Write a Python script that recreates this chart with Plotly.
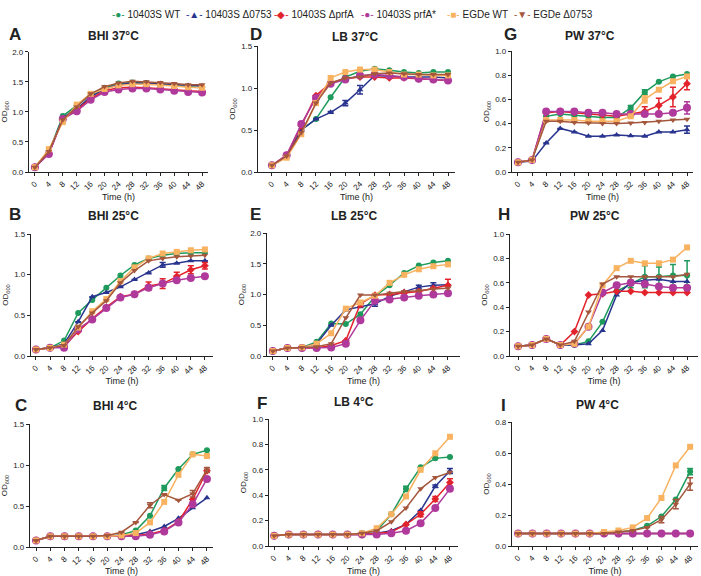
import plotly.graph_objects as go

TIME_H = [0, 4, 8, 12, 16, 20, 24, 28, 32, 36, 40, 44, 48]
TICK_H = [0, 4, 8, 12, 16, 20, 24, 28, 32, 36, 40, 44, 48]

STRAINS = ["10403S WT", "10403S \u03940753", "10403S \u0394prfA", "10403S prfA*", "EGDe WT", "EGDe \u03940753"]
COLORS = ["#1e9a5c", "#29348e", "#e3232c", "#b03a9c", "#f8b260", "#a5573d"]
SYMBOLS = ["circle", "triangle-up", "diamond", "circle", "square", "triangle-down"]
SIZES = [6, 6, 6, 8, 6, 6]
LEGEND_GLYPHS = ["\u25cf", "\u25b2", "\u25c6", "\u25cf", "\u25a0", "\u25bc"]

PANEL_LETTERS = ["A", "D", "G", "B", "E", "H", "C", "F", "I"]
PANEL_TITLES = ["BHI 37\u00b0C", "LB 37\u00b0C", "PW 37\u00b0C",
                "BHI 25\u00b0C", "LB 25\u00b0C", "PW 25\u00b0C",
                "BHI 4\u00b0C", "LB 4\u00b0C", "PW 4\u00b0C"]
Y_MAX = [2.0, 1.5, 1.0, 1.5, 2.0, 1.0, 1.5, 1.0, 0.8]
Y_STEP = [0.5, 0.5, 0.2, 0.5, 0.5, 0.2, 0.5, 0.2, 0.2]

# ---- A: BHI 37C
A_WT      = [0.08, 0.33, 0.93, 1.10, 1.28, 1.40, 1.47, 1.49, 1.48, 1.46, 1.44, 1.42, 1.40]
A_D0753   = [0.08, 0.31, 0.90, 1.05, 1.25, 1.38, 1.45, 1.48, 1.48, 1.47, 1.45, 1.44, 1.43]
A_DPRFA   = [0.08, 0.31, 0.88, 1.03, 1.22, 1.35, 1.40, 1.41, 1.40, 1.38, 1.36, 1.35, 1.34]
A_PRFAS   = [0.08, 0.30, 0.88, 1.01, 1.20, 1.33, 1.37, 1.39, 1.39, 1.37, 1.35, 1.33, 1.32]
A_EWT     = [0.08, 0.38, 0.83, 1.12, 1.30, 1.38, 1.44, 1.46, 1.46, 1.45, 1.43, 1.41, 1.40]
A_ED0753  = [0.08, 0.34, 0.87, 1.08, 1.30, 1.42, 1.48, 1.51, 1.50, 1.49, 1.47, 1.45, 1.45]

# ---- D: LB 37C
D_WT      = [0.08, 0.18, 0.50, 0.63, 0.89, 1.13, 1.20, 1.23, 1.21, 1.19, 1.18, 1.19, 1.19]
D_D0753   = [0.08, 0.19, 0.50, 0.63, 0.71, 0.82, 0.98, 1.15, 1.14, 1.13, 1.13, 1.13, 1.12]
D_DPRFA   = [0.08, 0.20, 0.55, 0.91, 1.06, 1.11, 1.13, 1.13, 1.12, 1.12, 1.11, 1.10, 1.09]
D_PRFAS   = [0.08, 0.20, 0.57, 0.88, 1.05, 1.10, 1.15, 1.16, 1.15, 1.13, 1.11, 1.10, 1.09]
D_EWT     = [0.08, 0.17, 0.45, 0.82, 1.12, 1.19, 1.22, 1.22, 1.19, 1.16, 1.16, 1.15, 1.15]
D_ED0753  = [0.08, 0.19, 0.47, 0.82, 1.06, 1.12, 1.13, 1.17, 1.18, 1.17, 1.16, 1.16, 1.16]
D_D0753_ERR = [0, 0, 0, 0, 0.01, 0.03, 0.05, 0, 0, 0, 0, 0, 0]

# ---- G: PW 37C
G_WT      = [0.08, 0.10, 0.46, 0.48, 0.47, 0.46, 0.45, 0.45, 0.53, 0.66, 0.745, 0.79, 0.81]
G_D0753   = [0.08, 0.09, 0.24, 0.36, 0.33, 0.295, 0.295, 0.305, 0.30, 0.295, 0.33, 0.33, 0.35]
G_DPRFA   = [0.08, 0.10, 0.49, 0.50, 0.49, 0.48, 0.47, 0.46, 0.48, 0.50, 0.55, 0.62, 0.73]
G_PRFAS   = [0.08, 0.10, 0.50, 0.50, 0.50, 0.49, 0.49, 0.48, 0.48, 0.48, 0.48, 0.49, 0.53]
G_EWT     = [0.08, 0.10, 0.43, 0.43, 0.43, 0.42, 0.42, 0.42, 0.46, 0.60, 0.68, 0.75, 0.79]
G_ED0753  = [0.08, 0.10, 0.42, 0.42, 0.41, 0.405, 0.40, 0.40, 0.405, 0.41, 0.42, 0.43, 0.435]
G_WT_ERR    = [0, 0, 0, 0, 0, 0, 0, 0, 0.02, 0.02, 0, 0, 0]
G_D0753_ERR = [0, 0, 0, 0, 0, 0, 0, 0, 0, 0, 0, 0, 0.03]
G_DPRFA_ERR = [0, 0, 0, 0, 0, 0, 0, 0, 0, 0.04, 0.06, 0.08, 0.05]
G_PRFAS_ERR = [0, 0, 0, 0, 0, 0, 0, 0, 0, 0, 0, 0, 0.05]
G_EWT_ERR   = [0, 0, 0, 0, 0, 0, 0, 0, 0, 0.03, 0, 0, 0]

# ---- B: BHI 25C
B_WT      = [0.08, 0.10, 0.19, 0.53, 0.69, 0.84, 0.99, 1.12, 1.20, 1.24, 1.26, 1.27, 1.27]
B_D0753   = [0.08, 0.10, 0.15, 0.42, 0.73, 0.78, 0.85, 0.94, 1.02, 1.12, 1.14, 1.17, 1.17]
B_DPRFA   = [0.08, 0.10, 0.12, 0.30, 0.46, 0.60, 0.73, 0.76, 0.86, 0.89, 0.98, 1.06, 1.11]
B_PRFAS   = [0.08, 0.10, 0.10, 0.33, 0.45, 0.59, 0.72, 0.76, 0.84, 0.89, 0.93, 0.96, 0.98]
B_EWT     = [0.08, 0.10, 0.14, 0.35, 0.55, 0.70, 0.92, 1.09, 1.20, 1.26, 1.28, 1.30, 1.31]
B_ED0753  = [0.08, 0.10, 0.13, 0.36, 0.53, 0.68, 0.90, 1.05, 1.17, 1.20, 1.22, 1.23, 1.24]
B_D0753_ERR = [0, 0, 0, 0, 0, 0, 0, 0, 0, 0.03, 0, 0, 0]
B_DPRFA_ERR = [0, 0, 0, 0, 0, 0, 0, 0, 0.05, 0.06, 0.05, 0.05, 0.04]

# ---- E: LB 25C
E_WT      = [0.08, 0.13, 0.14, 0.23, 0.53, 0.52, 0.68, 0.97, 1.15, 1.35, 1.47, 1.52, 1.55]
E_D0753   = [0.08, 0.13, 0.14, 0.20, 0.50, 0.75, 0.80, 0.85, 0.97, 1.05, 1.12, 1.15, 1.16]
E_DPRFA   = [0.08, 0.13, 0.13, 0.13, 0.17, 0.25, 0.85, 0.99, 1.00, 1.03, 1.05, 1.10, 1.15]
E_PRFAS   = [0.08, 0.13, 0.13, 0.13, 0.14, 0.20, 0.58, 0.90, 0.92, 0.95, 0.98, 1.00, 1.02]
E_EWT     = [0.08, 0.13, 0.14, 0.20, 0.37, 0.77, 0.87, 0.98, 1.19, 1.32, 1.41, 1.46, 1.49]
E_ED0753  = [0.08, 0.13, 0.14, 0.15, 0.20, 0.62, 0.99, 0.99, 1.02, 1.05, 1.06, 1.09, 1.10]
E_D0753_ERR = [0, 0, 0, 0, 0, 0, 0, 0.04, 0, 0, 0.03, 0.04, 0]
E_DPRFA_ERR = [0, 0, 0, 0, 0, 0, 0.05, 0, 0, 0, 0, 0, 0.10]

# ---- H: PW 25C
H_WT      = [0.08, 0.09, 0.14, 0.09, 0.09, 0.12, 0.28, 0.53, 0.59, 0.65, 0.65, 0.66, 0.66]
H_D0753   = [0.08, 0.09, 0.14, 0.09, 0.09, 0.10, 0.21, 0.50, 0.60, 0.62, 0.63, 0.61, 0.61]
H_DPRFA   = [0.08, 0.09, 0.14, 0.09, 0.20, 0.50, 0.51, 0.53, 0.53, 0.52, 0.52, 0.52, 0.52]
H_PRFAS   = [0.08, 0.09, 0.14, 0.09, 0.10, 0.24, 0.52, 0.58, 0.60, 0.59, 0.57, 0.56, 0.56]
H_EWT     = [0.08, 0.09, 0.14, 0.09, 0.10, 0.24, 0.58, 0.72, 0.78, 0.76, 0.76, 0.79, 0.89]
H_ED0753  = [0.08, 0.09, 0.14, 0.09, 0.12, 0.36, 0.59, 0.65, 0.65, 0.65, 0.65, 0.65, 0.67]
H_WT_ERR    = [0, 0, 0, 0, 0, 0, 0, 0, 0.03, 0.09, 0.08, 0.09, 0.12]

# ---- C: BHI 4C
C_WT      = [0.08, 0.13, 0.13, 0.13, 0.13, 0.13, 0.15, 0.20, 0.38, 0.72, 0.95, 1.13, 1.18]
C_D0753   = [0.08, 0.13, 0.13, 0.13, 0.13, 0.13, 0.14, 0.15, 0.19, 0.25, 0.35, 0.48, 0.60]
C_DPRFA   = [0.08, 0.13, 0.13, 0.13, 0.13, 0.13, 0.13, 0.14, 0.16, 0.20, 0.31, 0.58, 0.93]
C_PRFAS   = [0.08, 0.13, 0.13, 0.13, 0.13, 0.13, 0.13, 0.13, 0.15, 0.19, 0.30, 0.52, 0.83]
C_EWT     = [0.08, 0.13, 0.13, 0.13, 0.13, 0.13, 0.14, 0.17, 0.30, 0.55, 0.88, 1.13, 1.11]
C_ED0753  = [0.08, 0.13, 0.13, 0.13, 0.13, 0.14, 0.18, 0.30, 0.51, 0.64, 0.57, 0.65, 0.94]
C_WT_ERR    = [0, 0, 0, 0, 0, 0, 0, 0, 0, 0.03, 0, 0, 0]
C_ED0753_ERR = [0, 0, 0, 0, 0, 0, 0, 0, 0.03, 0, 0, 0.04, 0.03]

# ---- F: LB 4C
F_WT      = [0.08, 0.09, 0.09, 0.09, 0.09, 0.09, 0.10, 0.12, 0.25, 0.45, 0.62, 0.69, 0.70]
F_D0753   = [0.08, 0.09, 0.09, 0.09, 0.09, 0.09, 0.09, 0.10, 0.12, 0.17, 0.28, 0.47, 0.59]
F_DPRFA   = [0.08, 0.09, 0.09, 0.09, 0.09, 0.09, 0.09, 0.10, 0.11, 0.17, 0.25, 0.37, 0.50]
F_PRFAS   = [0.08, 0.09, 0.09, 0.09, 0.09, 0.09, 0.09, 0.09, 0.10, 0.12, 0.18, 0.30, 0.45]
F_EWT     = [0.08, 0.09, 0.09, 0.09, 0.09, 0.09, 0.10, 0.14, 0.25, 0.39, 0.60, 0.73, 0.86]
F_ED0753  = [0.08, 0.09, 0.09, 0.09, 0.09, 0.09, 0.10, 0.12, 0.19, 0.30, 0.45, 0.54, 0.58]
F_WT_ERR    = [0, 0, 0, 0, 0, 0, 0, 0, 0, 0.02, 0, 0, 0]
F_D0753_ERR = [0, 0, 0, 0, 0, 0, 0, 0, 0, 0, 0, 0.01, 0.02]
F_DPRFA_ERR = [0, 0, 0, 0, 0, 0, 0, 0, 0, 0, 0.02, 0.02, 0.03]

# ---- I: PW 4C
I_WT      = [0.08, 0.08, 0.08, 0.08, 0.08, 0.08, 0.08, 0.09, 0.10, 0.13, 0.19, 0.30, 0.48]
I_D0753   = [0.08, 0.08, 0.08, 0.08, 0.08, 0.08, 0.08, 0.08, 0.08, 0.08, 0.08, 0.08, 0.08]
I_DPRFA   = [0.08, 0.08, 0.08, 0.08, 0.08, 0.08, 0.08, 0.08, 0.08, 0.08, 0.08, 0.08, 0.08]
I_PRFAS   = [0.08, 0.08, 0.08, 0.08, 0.08, 0.08, 0.08, 0.08, 0.08, 0.08, 0.08, 0.08, 0.08]
I_EWT     = [0.08, 0.08, 0.08, 0.08, 0.08, 0.08, 0.09, 0.10, 0.12, 0.18, 0.31, 0.52, 0.64]
I_ED0753  = [0.08, 0.08, 0.08, 0.08, 0.08, 0.08, 0.08, 0.09, 0.10, 0.12, 0.17, 0.27, 0.40]
I_WT_ERR    = [0, 0, 0, 0, 0, 0, 0, 0, 0, 0, 0, 0, 0.02]
I_ED0753_ERR = [0, 0, 0, 0, 0, 0, 0, 0, 0, 0, 0.02, 0.03, 0.04]

PANEL_DATA = [
    [A_WT, A_D0753, A_DPRFA, A_PRFAS, A_EWT, A_ED0753],
    [D_WT, D_D0753, D_DPRFA, D_PRFAS, D_EWT, D_ED0753],
    [G_WT, G_D0753, G_DPRFA, G_PRFAS, G_EWT, G_ED0753],
    [B_WT, B_D0753, B_DPRFA, B_PRFAS, B_EWT, B_ED0753],
    [E_WT, E_D0753, E_DPRFA, E_PRFAS, E_EWT, E_ED0753],
    [H_WT, H_D0753, H_DPRFA, H_PRFAS, H_EWT, H_ED0753],
    [C_WT, C_D0753, C_DPRFA, C_PRFAS, C_EWT, C_ED0753],
    [F_WT, F_D0753, F_DPRFA, F_PRFAS, F_EWT, F_ED0753],
    [I_WT, I_D0753, I_DPRFA, I_PRFAS, I_EWT, I_ED0753],
]
PANEL_ERRORS = {
    (1, 1): D_D0753_ERR,
    (2, 0): G_WT_ERR, (2, 1): G_D0753_ERR, (2, 2): G_DPRFA_ERR, (2, 3): G_PRFAS_ERR, (2, 4): G_EWT_ERR,
    (3, 1): B_D0753_ERR, (3, 2): B_DPRFA_ERR,
    (4, 1): E_D0753_ERR, (4, 2): E_DPRFA_ERR,
    (5, 0): H_WT_ERR,
    (6, 0): C_WT_ERR, (6, 5): C_ED0753_ERR,
    (7, 0): F_WT_ERR, (7, 1): F_D0753_ERR, (7, 2): F_DPRFA_ERR,
    (8, 0): I_WT_ERR, (8, 5): I_ED0753_ERR,
}

# ---- layout geometry (pixels in 701x576 canvas)
W, H = 701, 576
# (x_left, x_right, y_top, y_bottom) of each plot area
BOXES = [
    (29, 208, 51.7, 172), (258, 455, 46, 172), (512, 693, 51, 172),
    (31, 213, 234, 356), (267, 460, 233, 356), (510, 698, 234, 356),
    (30, 213, 424, 547), (269, 458, 419, 546), (512, 698, 422, 546),
]
X_RANGES = [
    (-1.7, 49.7), (-3.8, 49.9), (-1.7, 49.7),
    (-1.4, 50.3), (-1.6, 51.3), (-2.3, 51.1),
    (-1.7, 49.7), (-1.4, 50.2), (-1.7, 50.2),
]
TITLE_POS = [(113, 36), (355, 37), (590, 36), (113, 216), (354, 216), (595, 216),
             (115, 406), (354, 402), (597, 405)]
LETTER_POS = [(15, 35), (256, 35), (510, 35), (15, 215), (255, 215), (504, 215),
              (21, 405), (262, 403), (503, 405)]
LEGEND_X = [110, 184, 272, 359, 445, 512]

FONT = "Arial, Liberation Sans, sans-serif"

fig = go.Figure()
layout = dict(
    width=W, height=H, margin=dict(l=0, r=0, t=0, b=0),
    paper_bgcolor="white", plot_bgcolor="white", showlegend=False,
    font=dict(family=FONT, color="#222"),
)

annotations = []
for p in range(9):
    sfx = "" if p == 0 else str(p + 1)
    xl, xr, yt, yb = BOXES[p]
    nsteps = int(round(Y_MAX[p] / Y_STEP[p]))
    yt_vals = [round(i * Y_STEP[p], 2) for i in range(nsteps + 1)]
    layout["xaxis" + sfx] = dict(
        domain=[xl / W, xr / W], anchor="y" + sfx, range=list(X_RANGES[p]),
        tickvals=TICK_H, ticktext=[str(t) for t in TICK_H], tickangle=-45,
        showline=True, linecolor="#222", linewidth=1.2, ticks="outside", ticklen=3,
        tickcolor="#222", showgrid=False, zeroline=False,
        tickfont=dict(size=8, family=FONT, color="#222"),
        title=dict(text="Time (h)", font=dict(size=9, family=FONT, color="#222"), standoff=2),
        automargin=False,
    )
    layout["yaxis" + sfx] = dict(
        domain=[1 - yb / H, 1 - yt / H], anchor="x" + sfx, range=[0, Y_MAX[p]],
        tickvals=yt_vals, tickformat=".1f",
        showline=True, linecolor="#222", linewidth=1.2, ticks="outside", ticklen=3,
        tickcolor="#222", showgrid=False, zeroline=False,
        tickfont=dict(size=8, family=FONT, color="#222"),
        title=dict(text="OD<sub>600</sub>", font=dict(size=8, family=FONT, color="#222"), standoff=4),
        automargin=False,
    )
    for s in range(6):
        err = PANEL_ERRORS.get((p, s))
        tr = dict(
            x=TIME_H, y=PANEL_DATA[p][s], mode="lines+markers", name=STRAINS[s],
            xaxis="x" + sfx, yaxis="y" + sfx,
            line=dict(color=COLORS[s], width=1.5),
            marker=dict(symbol=SYMBOLS[s], size=SIZES[s], color=COLORS[s]),
            cliponaxis=False,
        )
        if err is not None:
            tr["error_y"] = dict(type="data", array=err, visible=True, color=COLORS[s],
                                 thickness=1.5, width=3)
        fig.add_trace(go.Scatter(**tr))
    tx, ty = TITLE_POS[p]
    annotations.append(dict(text="<b>" + PANEL_TITLES[p] + "</b>", x=tx / W, y=1 - ty / H,
                            xref="paper", yref="paper", showarrow=False,
                            xanchor="center", yanchor="middle",
                            font=dict(size=12, family=FONT, color="#222")))
    lx, ly = LETTER_POS[p]
    annotations.append(dict(text="<b>" + PANEL_LETTERS[p] + "</b>", x=lx / W, y=1 - ly / H,
                            xref="paper", yref="paper", showarrow=False,
                            xanchor="center", yanchor="middle",
                            font=dict(size=17, family=FONT, color="#222")))

for s in range(6):
    annotations.append(dict(
        text="<span style='color:%s'>-%s-</span> %s" % (COLORS[s], LEGEND_GLYPHS[s], STRAINS[s]),
        x=LEGEND_X[s] / W, y=1 - 14 / H, xref="paper", yref="paper", showarrow=False,
        xanchor="left", yanchor="middle", font=dict(size=10, family=FONT, color="#222")))

layout["annotations"] = annotations
fig.update_layout(**layout)
fig.write_html(
    "out.html",
    config={"displayModeBar": False},
    post_script="document.body.style.margin='0';document.body.style.overflow='hidden';",
)
